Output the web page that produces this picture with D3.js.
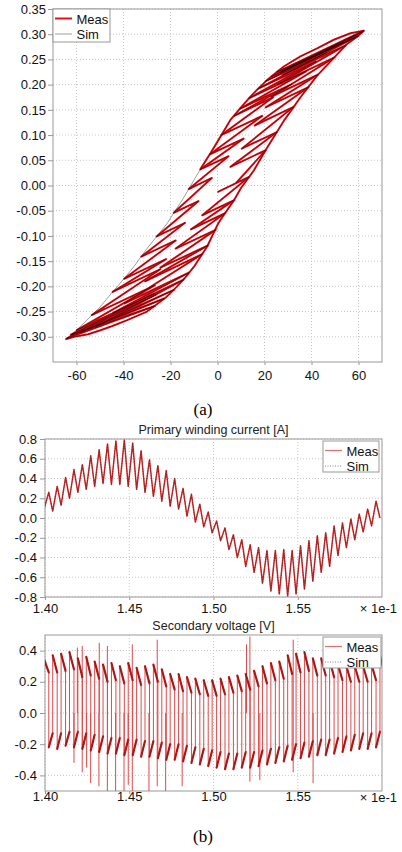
<!DOCTYPE html>
<meta charset="utf-8">

<!-- Load d3.js -->
<script src="https://d3js.org/d3.v7.min.js"></script>

<!-- Create a div where the graph will take place -->
<div id="my_dataviz"></div>

<style>
  body { margin: 0; background: #fff; }
  #my_dataviz svg { font-family: "Liberation Sans", Arial, Helvetica, sans-serif; }
  .grid line { stroke: #c8c8c8; stroke-dasharray: 1,2; }
  .axis line { stroke: #999; }
  .axis text { font-size: 13px; fill: #111; }
</style>

<script>

// ---------------------------//
//     DATA   //
// ---------------------------//

// (a) outer branches of the B-H loop
var upperBranchH = [-64.7,-60,-56.9,-50,-45,-40,-35.6,-30,-25,-21.4,-18,-15,-12,-7.2,-3,0,5.5,10,14,17.5,21.1,25,28.2,35.3,42.4,49.5,56.6,62.3];
var upperBranchB = [-0.305,-0.287,-0.273,-0.241,-0.213,-0.186,-0.161,-0.125,-0.096,-0.075,-0.050,-0.029,-0.005,0.033,0.064,0.087,0.130,0.155,0.176,0.193,0.209,0.224,0.236,0.256,0.272,0.289,0.302,0.307];
var lowerBranchH = [-64.7,-61,-55,-49.8,-45,-38.4,-30,-27.1,-22,-18.6,-14,-10,-4.4,0,1.3,6.9,10,15.5,21.1,25,28.2,32,35.3,42.4,49.5,55,59.4,62.3];
var lowerBranchB = [-0.305,-0.300,-0.295,-0.287,-0.279,-0.267,-0.250,-0.240,-0.222,-0.207,-0.184,-0.161,-0.121,-0.078,-0.068,-0.030,-0.005,0.030,0.075,0.104,0.128,0.153,0.175,0.218,0.253,0.280,0.295,0.307];

// (a) minor loops: turning points of each switching period (first trough is just before 1.40)
var loopTroughH = [7.9, 5.5,10.3,15.8,20.5,22.9,25.3,27.7,26.9,26.9,25.3, 22.9,20.5,17.4,13.4,9.5,7.1,1.6,-3.2,-7.3,-12.2, -18.6,-25.9,-32.4,-39.7,-44.6,-53.5,-59.9,-62.4,-64.0,-62.4, -58.3,-51.8,-44.6,-39.7,-30.8,-24.3,-17.8,-11.3,-6.5,0.0];
var loopTroughB = [0.005, 0.037,0.073,0.119,0.155,0.176,0.200,0.219,0.224,0.226,0.225, 0.216,0.207,0.192,0.173,0.152,0.138,0.100,0.062,0.032,-0.007, -0.054,-0.101,-0.141,-0.185,-0.211,-0.257,-0.287,-0.296,-0.303,-0.297, -0.291,-0.280,-0.253,-0.234,-0.190,-0.163,-0.125,-0.087,-0.059,-0.013];
var loopPeakH = [20.5,25.3,32.4,38.7,42.7,49.8,54.5,59.3,61.6,62.3, 60.0,53.7,46.6,41.9,37.9,31.6,23.7,19.0,11.1,4.7, -2.4,-8.1,-13.8,-17.8,-21.9,-24.3,-26.7,-26.7,-25.9,-26.7, -22.7,-18.6,-14.6,-12.2,-6.5,-4.1,-0.8,3.2,7.1,13.4];
var loopPeakB = [0.070,0.106,0.156,0.195,0.220,0.254,0.278,0.295,0.304,0.307, 0.297,0.284,0.264,0.246,0.227,0.201,0.175,0.138,0.093,0.058, 0.015,-0.031,-0.074,-0.109,-0.146,-0.166,-0.198,-0.214,-0.216,-0.239, -0.224,-0.207,-0.187,-0.173,-0.136,-0.119,-0.088,-0.055,-0.029,0.017];

// (b) time base (x 1e-1 s): first current trough / peak and switching period
var firstTroughTime = 1.39959;
var firstPeakTime = 1.40225;
var switchPeriod = 0.00498;

// (b) primary winding current [A]
var currentTroughs = [0.10, 0.07,0.13,0.20,0.26,0.29,0.32,0.35,0.34,0.34,0.32, 0.29,0.26,0.22,0.17,0.12,0.09,0.02,-0.04,-0.09,-0.15, -0.23,-0.32,-0.40,-0.49,-0.55,-0.66,-0.74,-0.77,-0.79,-0.77, -0.72,-0.64,-0.55,-0.49,-0.38,-0.30,-0.22,-0.14,-0.08,0.00];
var currentPeaks = [0.26,0.32,0.41,0.49,0.54,0.63,0.69,0.75,0.78,0.79, 0.76,0.68,0.59,0.53,0.48,0.40,0.30,0.24,0.14,0.06, -0.03,-0.10,-0.17,-0.22,-0.27,-0.30,-0.33,-0.33,-0.32,-0.33, -0.28,-0.23,-0.18,-0.15,-0.08,-0.05,-0.01,0.04,0.09,0.17];

// (b) secondary voltage [V]: start / end of each positive and negative half
var voltPosTop = [0.34, 0.37,0.38,0.39,0.35,0.36,0.33,0.31,0.32,0.30,0.32, 0.29,0.30,0.31,0.28,0.25,0.25,0.23,0.22,0.21,0.21, 0.22,0.23,0.24,0.25,0.27,0.30,0.32,0.33,0.37,0.38, 0.39,0.35,0.35,0.34,0.31,0.30,0.30,0.30,0.31,0.37];
var voltPosEnd = [0.26, 0.26,0.27,0.28,0.23,0.24,0.22,0.20,0.21,0.19,0.21, 0.18,0.19,0.20,0.17,0.15,0.14,0.13,0.12,0.11,0.11, 0.12,0.13,0.14,0.15,0.17,0.19,0.21,0.22,0.25,0.26, 0.27,0.24,0.24,0.23,0.21,0.20,0.20,0.20,0.21,0.26];
var voltNegLow = [-0.22,-0.23,-0.21,-0.22,-0.23,-0.24,-0.25,-0.26,-0.26,-0.27, -0.27,-0.28,-0.28,-0.29,-0.30,-0.30,-0.31,-0.32,-0.33,-0.34, -0.35,-0.36,-0.36,-0.35,-0.35,-0.34,-0.33,-0.32,-0.31,-0.30, -0.29,-0.28,-0.27,-0.27,-0.26,-0.25,-0.24,-0.23,-0.23,-0.22];
var voltNegEnd = [-0.13,-0.13,-0.12,-0.12,-0.13,-0.14,-0.15,-0.16,-0.16,-0.17, -0.17,-0.18,-0.18,-0.19,-0.20,-0.20,-0.21,-0.22,-0.23,-0.24, -0.25,-0.26,-0.26,-0.25,-0.25,-0.24,-0.23,-0.22,-0.21,-0.20, -0.19,-0.18,-0.17,-0.17,-0.16,-0.15,-0.14,-0.13,-0.13,-0.12];
// switching spikes of the measurement
var spikeTimes = [1.4192,1.4221,1.4322,1.4370,1.4518,1.4666,1.5196,1.5216,1.5473, 1.4172,1.4221,1.4247,1.4271,1.4320,1.4370,1.4419,1.4469,1.4494,1.4518,1.4617,1.4666,1.4716,1.4814,1.5216,1.5275,1.5473,1.5591];
var spikeValues = [0.42,0.43,0.45,0.43,0.44,0.47,0.44,0.49,0.47, -0.32,-0.38,-0.35,-0.45,-0.47,-0.50,-0.50,-0.50,-0.46,-0.50,-0.50,-0.47,-0.50,-0.47,-0.44,-0.43,-0.38,-0.45];

// ticks
var aXTicks = [-60,-40,-20,0,20,40,60];
var aYTicks = [-0.30,-0.25,-0.20,-0.15,-0.10,-0.05,0,0.05,0.10,0.15,0.20,0.25,0.30,0.35];
var bXTicks = [1.40,1.45,1.50,1.55];
var b1YTicks = [-0.8,-0.6,-0.4,-0.2,0,0.2,0.4,0.6,0.8];
var b2YTicks = [-0.4,-0.2,0,0.2,0.4];

// ---------------------------//
//       LAYOUT               //
// ---------------------------//

var measA = "#e8121a", simA = "#000";
var measB = "#d02828", measEdge = "#dd4a4a", simB = "#222";

var svg = d3.select("#my_dataviz")
  .append("svg")
    .attr("width", 402)
    .attr("height", 852);

// one framed panel with dotted grid and tick labels
function drawPanel(box, xDomain, yDomain, xTicks, yTicks, xFmt, yFmt, xLabelY, yPad) {
  var x = d3.scaleLinear().domain(xDomain).range([box.x0, box.x1]);
  var y = d3.scaleLinear().domain(yDomain).range([box.y1, box.y0]);
  var g = svg.append("g");

  g.append("g").attr("class", "grid")
    .selectAll("line").data(xTicks).enter().append("line")
      .attr("x1", function(d){ return x(d) }).attr("x2", function(d){ return x(d) })
      .attr("y1", box.y0).attr("y2", box.y1);
  g.append("g").attr("class", "grid")
    .selectAll("line").data(yTicks).enter().append("line")
      .attr("y1", function(d){ return y(d) }).attr("y2", function(d){ return y(d) })
      .attr("x1", box.x0).attr("x2", box.x1);

  g.append("rect")
    .attr("x", box.x0).attr("y", box.y0)
    .attr("width", box.x1 - box.x0).attr("height", box.y1 - box.y0)
    .attr("fill", "none").attr("stroke", "#999");

  var ya = g.append("g").attr("class", "axis")
    .attr("transform", "translate(" + box.x0 + ",0)")
    .call(d3.axisLeft(y).tickValues(yTicks).tickFormat(yFmt).tickSize(5).tickSizeOuter(0).tickPadding(yPad));
  ya.select(".domain").remove();

  var xa = g.append("g").attr("class", "axis")
    .attr("transform", "translate(0," + box.y1 + ")")
    .call(d3.axisBottom(x).tickValues(xTicks).tickFormat(xFmt).tickSize(3).tickSizeOuter(0));
  xa.select(".domain").remove();
  xa.selectAll("text").attr("y", xLabelY).attr("dy", null);

  // clip for the data
  var id = "clip" + Math.round(box.y0);
  svg.append("clipPath").attr("id", id).append("rect")
    .attr("x", box.x0).attr("y", box.y0)
    .attr("width", box.x1 - box.x0).attr("height", box.y1 - box.y0);
  var data = svg.append("g").attr("clip-path", "url(#" + id + ")");

  return {x: x, y: y, data: data};
}

function legend(x0, y0, w, h, measColor, measWidth, simDash, simColor) {
  var g = svg.append("g");
  g.append("rect").attr("x", x0).attr("y", y0).attr("width", w).attr("height", h)
    .attr("fill", "#fff").attr("stroke", "#999");
  g.append("line").attr("x1", x0 + 2).attr("x2", x0 + 19).attr("y1", y0 + 9.5).attr("y2", y0 + 9.5)
    .attr("stroke", measColor).attr("stroke-width", measWidth);
  g.append("line").attr("x1", x0 + 2).attr("x2", x0 + 19).attr("y1", y0 + 25).attr("y2", y0 + 25)
    .attr("stroke", simColor).attr("stroke-width", 0.8).attr("stroke-dasharray", simDash);
  g.append("text").attr("x", x0 + 23.5).attr("y", y0 + 14.5).text("Meas").style("font-size", "13px").attr("fill", "#111");
  g.append("text").attr("x", x0 + 23.5).attr("y", y0 + 30).text("Sim").style("font-size", "13px").attr("fill", "#111");
}

// ---------------------------//
//   (a) B-H LOOP             //
// ---------------------------//

var pa = drawPanel({x0: 53, x1: 382, y0: 9, y1: 362}, [-70, 70], [-0.35, 0.35],
  aXTicks, aYTicks, function(d){ return String(d) }, function(d){ return d.toFixed(2) }, 17.6, 2);

var lineA = d3.line().x(function(d){ return pa.x(d[0]) }).y(function(d){ return pa.y(d[1]) });

var upperBranch = upperBranchH.map(function(h, i){ return [h, upperBranchB[i]] });
var lowerBranch = lowerBranchH.map(function(h, i){ return [h, lowerBranchB[i]] });
// the measurement only follows the upper branch on its upper part
var upperMeas = upperBranch.filter(function(d){ return d[0] > -8 });
var loopPts = [[loopTroughH[0], loopTroughB[0]]];
loopPeakH.forEach(function(h, k) {
  loopPts.push([h, loopPeakB[k]]);
  loopPts.push([loopTroughH[k + 1], loopTroughB[k + 1]]);
});

[upperMeas, lowerBranch, loopPts].forEach(function(p) {
  pa.data.append("path").datum(p).attr("d", lineA)
    .attr("fill", "none").attr("stroke", measA).attr("stroke-width", 2).attr("stroke-linejoin", "round");
});
[upperBranch, lowerBranch, loopPts].forEach(function(p) {
  pa.data.append("path").datum(p).attr("d", lineA)
    .attr("fill", "none").attr("stroke", simA).attr("stroke-width", 0.45).attr("opacity", 0.85)
    .attr("stroke-linejoin", "round");
});

legend(53, 9, 57, 33, measA, 2, null, "#888");

svg.append("text").attr("x", 203).attr("y", 415).attr("text-anchor", "middle")
  .style("font-family", "'Liberation Serif', 'Times New Roman', serif").style("font-size", "17px")
  .text("(a)");

// ---------------------------//
//   (b) TIME SIGNALS         //
// ---------------------------//

function troughTime(j) { return firstTroughTime + j * switchPeriod }
function peakTime(k) { return firstPeakTime + k * switchPeriod }

// primary current
var pb1 = drawPanel({x0: 45, x1: 382, y0: 439, y1: 597}, [1.40, 1.60], [-0.8, 0.8],
  bXTicks, b1YTicks, function(d){ return d.toFixed(2) }, function(d){ return d.toFixed(1) }, 16, 3);

var currentPts = [[troughTime(0), currentTroughs[0]]];
currentPeaks.forEach(function(v, k) {
  currentPts.push([peakTime(k), v]);
  currentPts.push([troughTime(k + 1), currentTroughs[k + 1]]);
});
var lineB1 = d3.line().x(function(d){ return pb1.x(d[0]) }).y(function(d){ return pb1.y(d[1]) });

pb1.data.append("path").datum(currentPts).attr("d", lineB1)
  .attr("fill", "none").attr("stroke", measB).attr("stroke-width", 1.5).attr("stroke-linejoin", "round");
pb1.data.append("path").datum(currentPts).attr("d", lineB1)
  .attr("fill", "none").attr("stroke", simB).attr("stroke-width", 0.7).attr("stroke-dasharray", "1,1.5").attr("opacity", 0.7);

svg.append("text").attr("x", 213.5).attr("y", 434).attr("text-anchor", "middle")
  .style("font-size", "12.5px").attr("fill", "#222").text("Primary winding current [A]");
svg.append("text").attr("x", 397).attr("y", 612.5).attr("text-anchor", "end")
  .style("font-size", "13px").attr("fill", "#111").text("× 1e-1");
legend(323, 441, 56, 31, "#e07070", 1.2, "1,1.5", "#666");

// secondary voltage
var pb2 = drawPanel({x0: 45, x1: 382, y0: 635, y1: 791}, [1.40, 1.60], [-0.5, 0.5],
  bXTicks, b2YTicks, function(d){ return d.toFixed(2) }, function(d){ return d.toFixed(1) }, 10, 3);

var voltPts = [[troughTime(0), voltPosTop[0]]];
var lobes = [[[troughTime(0), voltPosTop[0]], [peakTime(0), voltPosEnd[0]]]];
voltNegLow.forEach(function(v, k) {
  voltPts.push([peakTime(k), voltPosEnd[k]]);
  voltPts.push([peakTime(k), v]);
  voltPts.push([troughTime(k + 1), voltNegEnd[k]]);
  voltPts.push([troughTime(k + 1), voltPosTop[k + 1]]);
  lobes.push([[peakTime(k), v], [troughTime(k + 1), voltNegEnd[k]]]);
  lobes.push([[troughTime(k + 1), voltPosTop[k + 1]], [peakTime(k + 1), voltPosEnd[k + 1]]]);
});
voltPts.push([peakTime(voltNegLow.length), voltPosEnd[voltNegLow.length]]);
var lineB2 = d3.line().x(function(d){ return pb2.x(d[0]) }).y(function(d){ return pb2.y(d[1]) });

// spikes and switching edges: thin
pb2.data.selectAll("spike")
  .data(spikeTimes)
  .enter()
  .append("line")
    .attr("x1", function(d){ return pb2.x(d) }).attr("x2", function(d){ return pb2.x(d) })
    .attr("y1", pb2.y(0))
    .attr("y2", function(d, i){ return pb2.y(spikeValues[i]) })
    .attr("stroke", measEdge).attr("stroke-width", 1);
pb2.data.append("path").datum(voltPts).attr("d", lineB2)
  .attr("fill", "none").attr("stroke", measEdge).attr("stroke-width", 1);
// flat parts of each half period: heavier
pb2.data.selectAll("lobe")
  .data(lobes)
  .enter()
  .append("path")
    .attr("d", lineB2)
    .attr("fill", "none").attr("stroke", "#c01a1a").attr("stroke-width", 2.2).attr("stroke-linecap", "round");
pb2.data.selectAll("simlobe")
  .data(lobes)
  .enter()
  .append("path")
    .attr("d", lineB2)
    .attr("fill", "none").attr("stroke", simB).attr("stroke-width", 0.8).attr("stroke-dasharray", "1,1").attr("opacity", 0.7);

svg.append("text").attr("x", 213.5).attr("y", 629.5).attr("text-anchor", "middle")
  .style("font-size", "12.5px").attr("fill", "#222").text("Secondary voltage [V]");
svg.append("text").attr("x", 397).attr("y", 801.5).attr("text-anchor", "end")
  .style("font-size", "13px").attr("fill", "#111").text("× 1e-1");
legend(323, 637, 58, 31, "#e07070", 1.2, "1,1.5", "#666");

svg.append("text").attr("x", 203).attr("y", 842).attr("text-anchor", "middle")
  .style("font-family", "'Liberation Serif', 'Times New Roman', serif").style("font-size", "17px")
  .text("(b)");

</script>
